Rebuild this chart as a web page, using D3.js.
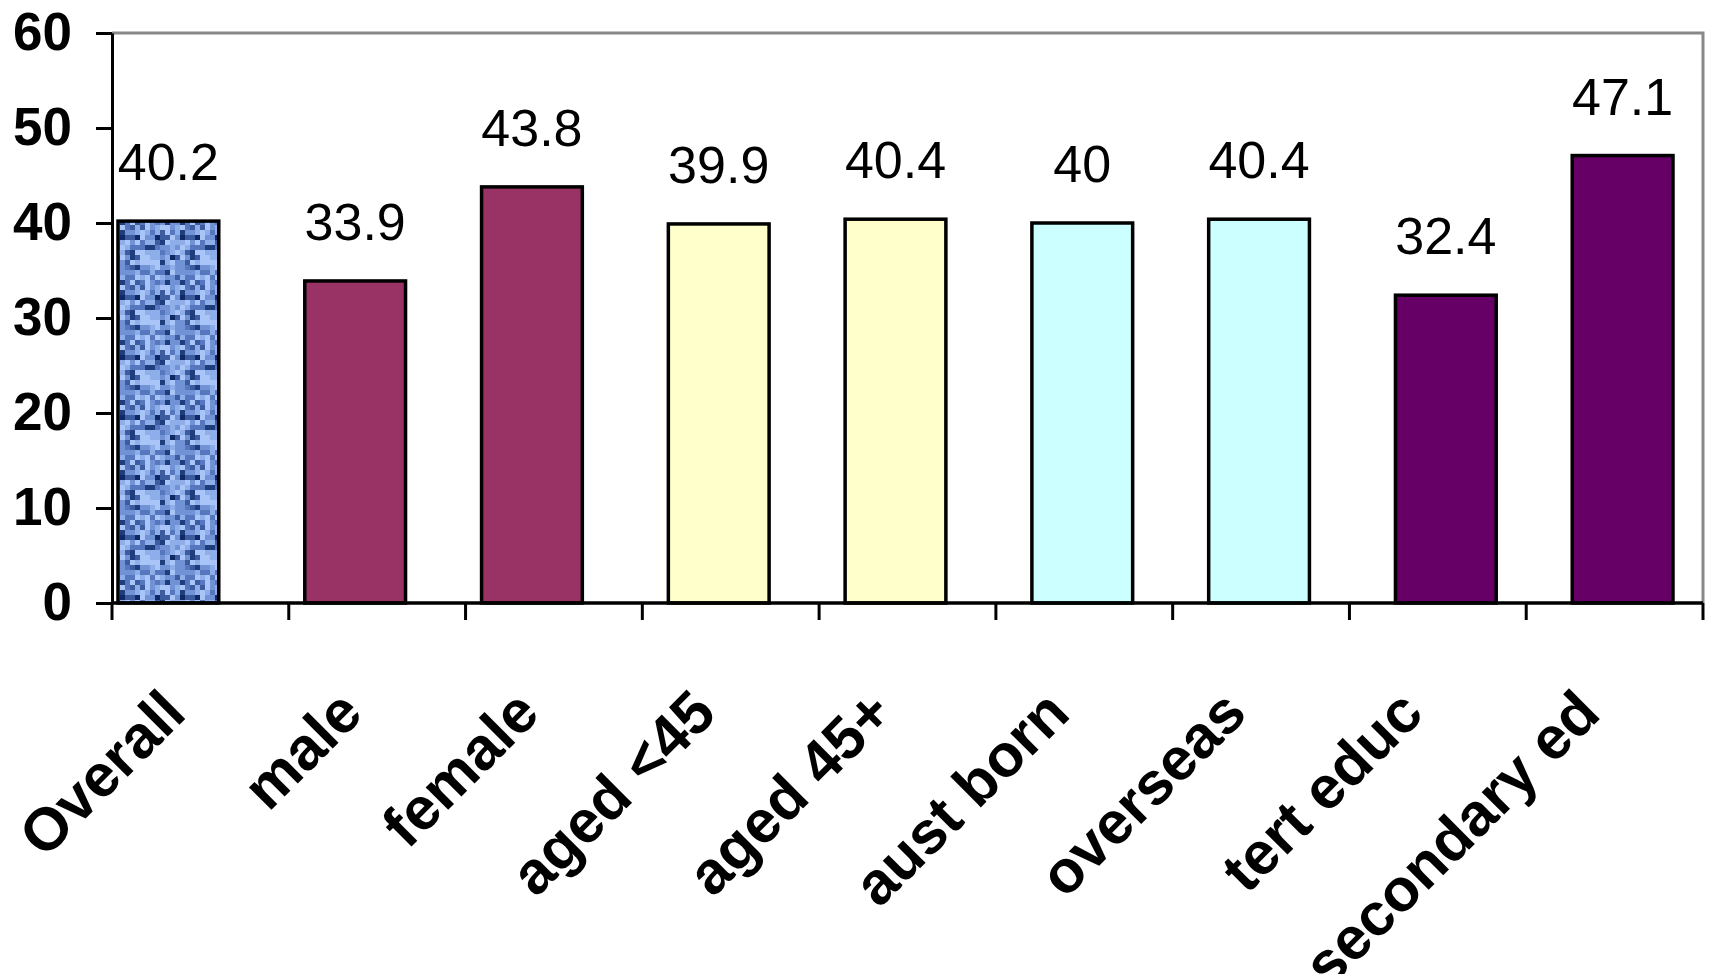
<!DOCTYPE html>
<html>
<head>
<meta charset="utf-8">
<script src="https://cdn.jsdelivr.net/npm/d3@7"></script>
<style>
  html, body { margin: 0; padding: 0; background: #ffffff; }
  svg { display: block; }
  text { font-family: "Liberation Sans", Arial, sans-serif; fill: #000; }
</style>
</head>
<body>
<svg id="chart" width="1710" height="974"></svg>
<script>
// Survey results by respondent group
const categories = ["Overall", "male", "female", "aged <45", "aged 45+", "aust born", "overseas", "tert educ", "secondary ed"];
const values = [40.2, 33.9, 43.8, 39.9, 40.4, 40, 40.4, 32.4, 47.1];
const groups = ["Overall", "Sex", "Sex", "Age", "Age", "Birthplace", "Birthplace", "Education", "Education"];
const groupNames = ["Overall", "Sex", "Age", "Birthplace", "Education"];
const groupFills = ["url(#tissue)", "#993366", "#FFFFCC", "#CCFFFF", "#660066"];
const yTicks = [0, 10, 20, 30, 40, 50, 60];

const svg = d3.select("#chart");
const margin = { left: 112, right: 7, top: 33, bottom: 371 };
const W = 1710, H = 974;

const x = d3.scaleBand().domain(categories).range([margin.left, W - margin.right]).padding(0);
const y = d3.scaleLinear().domain([0, 60]).range([H - margin.bottom, margin.top]);
// each group is its own series, overlapped within the category slot
const seriesShift = d3.scalePoint().domain(groupNames).range([-32, 8]);
const fill = d3.scaleOrdinal().domain(groupNames).range(groupFills);
const barW = x.bandwidth() * 0.57;

// blue "tissue" texture for the overall bar
const defs = svg.append("defs");
const cell = 5, n = 12;
const pat = defs.append("pattern")
  .attr("id", "tissue")
  .attr("patternUnits", "userSpaceOnUse")
  .attr("x", 0).attr("y", 0)
  .attr("width", cell * n).attr("height", cell * n);
const tones = ["#a9c4f7", "#8eaeea", "#7193d6", "#5677bd", "#3c5c9f", "#1d3d7c", "#0f2a66"];
const toneWeights = [0.2, 0.2, 0.18, 0.16, 0.12, 0.09, 0.05];
const cum = d3.cumsum(toneWeights);
const cells = d3.cross(d3.range(n), d3.range(n));
pat.selectAll("rect").data(cells).join("rect")
  .attr("x", d => d[0] * cell)
  .attr("y", d => d[1] * cell)
  .attr("width", cell).attr("height", cell)
  .attr("fill", d => {
    let h = Math.imul(d[0] + 17, 0x9E3779B1) ^ Math.imul(d[1] + 31, 0x85EBCA77);
    h = Math.imul(h ^ (h >>> 15), 0x2C1B3C6D);
    h ^= h >>> 13;
    const u = (h >>> 0) / 4294967296;
    const k = cum.findIndex(c => u < c);
    return tones[k < 0 ? tones.length - 1 : k];
  });

const [x0, x1] = x.range();
const [yb, yt] = y.range();

// plot frame (top and right edges)
svg.append("path")
  .attr("d", `M${x0},${yt}H${x1}V${yb}`)
  .attr("fill", "none")
  .attr("stroke", "#888888")
  .attr("stroke-width", 3);

// bars
const barX = (c, i) => x(c) + x.bandwidth() / 2 + seriesShift(groups[i]) - barW / 2;
svg.append("g").selectAll("rect").data(categories).join("rect")
  .attr("x", (c, i) => barX(c, i))
  .attr("y", (c, i) => y(values[i]))
  .attr("width", barW)
  .attr("height", (c, i) => y(0) - y(values[i]))
  .attr("fill", (c, i) => fill(groups[i]))
  .attr("stroke", "#000")
  .attr("stroke-width", 3.5);

// value labels
svg.append("g").selectAll("text").data(categories).join("text")
  .attr("x", (c, i) => barX(c, i) + barW / 2)
  .attr("y", (c, i) => y(values[i]) - 41)
  .attr("text-anchor", "middle")
  .style("font-size", "52px")
  .text((c, i) => values[i]);

// y axis
const yAxis = svg.append("g")
  .attr("transform", `translate(${x0},0)`)
  .call(d3.axisLeft(y).tickValues(yTicks).tickSize(16).tickSizeOuter(0).tickPadding(24));
yAxis.select(".domain").attr("stroke", "#000").attr("stroke-width", 3);
yAxis.selectAll(".tick line").attr("stroke", "#000").attr("stroke-width", 3);
yAxis.selectAll(".tick text")
  .style("font-family", "'Liberation Sans', Arial, sans-serif")
  .style("font-size", "53px")
  .style("font-weight", "bold")
  .attr("fill", "#000");

// x axis baseline and category dividers
svg.append("line")
  .attr("x1", x0).attr("x2", x1)
  .attr("y1", y(0)).attr("y2", y(0))
  .attr("stroke", "#000").attr("stroke-width", 3.5);
const dividers = categories.map(c => x(c)).concat([x1]);
svg.append("g").selectAll("line").data(dividers).join("line")
  .attr("x1", d => d).attr("x2", d => d)
  .attr("y1", y(0)).attr("y2", y(0) + 17)
  .attr("stroke", "#000").attr("stroke-width", 3);

// rotated category labels
svg.append("g").selectAll("text").data(categories).join("text")
  .attr("transform", c => `translate(${x(c) + x.bandwidth() / 2 - 12},716) rotate(-45)`)
  .attr("text-anchor", "end")
  .style("font-size", "60px")
  .style("font-weight", "bold")
  .text(c => c);
</script>
</body>
</html>
